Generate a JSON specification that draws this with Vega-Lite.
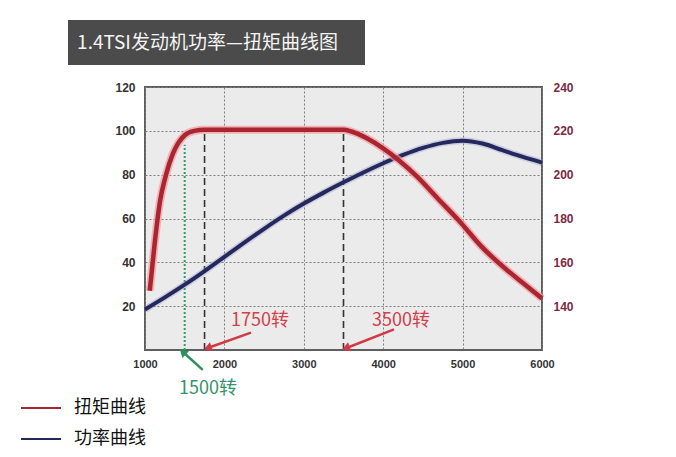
{
  "$schema": "https://vega.github.io/schema/vega-lite/v6.json",
  "background": "white",
  "padding": {"left": 20, "top": 20, "right": 5, "bottom": 5},
  "datasets": {
    "heading": [{"title": "1.4TSI发动机功率—扭矩曲线图"}],
    "power": [
      {"series": "功率曲线", "rpm": 1000, "kw": 18.5},
      {"series": "功率曲线", "rpm": 1250, "kw": 24},
      {"series": "功率曲线", "rpm": 1500, "kw": 29.8},
      {"series": "功率曲线", "rpm": 1750, "kw": 36},
      {"series": "功率曲线", "rpm": 2000, "kw": 42.5},
      {"series": "功率曲线", "rpm": 2250, "kw": 49},
      {"series": "功率曲线", "rpm": 2500, "kw": 55.3},
      {"series": "功率曲线", "rpm": 2750, "kw": 61.3},
      {"series": "功率曲线", "rpm": 3000, "kw": 66.8},
      {"series": "功率曲线", "rpm": 3250, "kw": 71.8},
      {"series": "功率曲线", "rpm": 3500, "kw": 76.5},
      {"series": "功率曲线", "rpm": 3750, "kw": 81},
      {"series": "功率曲线", "rpm": 4000, "kw": 85.2},
      {"series": "功率曲线", "rpm": 4250, "kw": 89},
      {"series": "功率曲线", "rpm": 4500, "kw": 92.2},
      {"series": "功率曲线", "rpm": 4750, "kw": 94.5},
      {"series": "功率曲线", "rpm": 5000, "kw": 95.5},
      {"series": "功率曲线", "rpm": 5250, "kw": 94.2},
      {"series": "功率曲线", "rpm": 5500, "kw": 91.2},
      {"series": "功率曲线", "rpm": 5750, "kw": 88.2},
      {"series": "功率曲线", "rpm": 6000, "kw": 85.5}
    ],
    "torque": [
      {"series": "扭矩曲线", "rpm": 1060, "nm": 147},
      {"series": "扭矩曲线", "rpm": 1120, "nm": 168},
      {"series": "扭矩曲线", "rpm": 1190, "nm": 188},
      {"series": "扭矩曲线", "rpm": 1265, "nm": 200},
      {"series": "扭矩曲线", "rpm": 1350, "nm": 209.5},
      {"series": "扭矩曲线", "rpm": 1420, "nm": 214.5},
      {"series": "扭矩曲线", "rpm": 1500, "nm": 218},
      {"series": "扭矩曲线", "rpm": 1620, "nm": 220},
      {"series": "扭矩曲线", "rpm": 1750, "nm": 220.5},
      {"series": "扭矩曲线", "rpm": 2500, "nm": 220.5},
      {"series": "扭矩曲线", "rpm": 3500, "nm": 220.5},
      {"series": "扭矩曲线", "rpm": 3600, "nm": 219.7},
      {"series": "扭矩曲线", "rpm": 3800, "nm": 216.5},
      {"series": "扭矩曲线", "rpm": 4000, "nm": 212},
      {"series": "扭矩曲线", "rpm": 4200, "nm": 206.5},
      {"series": "扭矩曲线", "rpm": 4430, "nm": 199},
      {"series": "扭矩曲线", "rpm": 4690, "nm": 189},
      {"series": "扭矩曲线", "rpm": 4980, "nm": 178},
      {"series": "扭矩曲线", "rpm": 5230, "nm": 167.5},
      {"series": "扭矩曲线", "rpm": 5525, "nm": 157.5},
      {"series": "扭矩曲线", "rpm": 5780, "nm": 150},
      {"series": "扭矩曲线", "rpm": 6000, "nm": 143.5}
    ],
    "guides": [
      {"rpm": 1500, "low": 0, "high": 93.6, "tone": "green"},
      {"rpm": 1750, "low": 0, "high": 99, "tone": "black"},
      {"rpm": 3500, "low": 0, "high": 99.5, "tone": "black"}
    ],
    "notes": [
      {"label": "1750转", "rpm": 2448, "kw": 13.2, "tone": "red"},
      {"label": "3500转", "rpm": 4224, "kw": 13.2, "tone": "red"},
      {"label": "1500转", "rpm": 1793, "kw": -17.8, "tone": "green"}
    ],
    "arrows": [
      {"tone": "red", "rpm": 2335, "kw": 7.9, "rpm_end": 1790, "kw_end": 0.9},
      {"tone": "red", "rpm": 4136, "kw": 9.4, "rpm_end": 3530, "kw_end": 0.8},
      {"tone": "green", "rpm": 1727, "kw": -9.1, "rpm_end": 1475, "kw_end": -0.8}
    ]
  },
  "vconcat": [
    {
      "width": 297,
      "height": 45,
      "view": {"fill": "#4b4b4b", "stroke": null},
      "data": {"name": "heading"},
      "mark": {"type": "text", "font": "Noto Sans CJK SC", "fontSize": 19, "color": "#f4f4f4", "align": "center", "baseline": "middle", "dx": -9},
      "encoding": {"text": {"field": "title"}}
    },
    {
      "spacing": 0,
      "hconcat": [
        {
          "width": 45,
          "height": 263,
          "view": {"fill": null, "stroke": null},
          "data": {"values": []},
          "mark": "text"
        },
        {
          "width": 397,
          "height": 263,
          "layer": [
            {
              "layer": [
                {
                  "data": {"name": "guides"},
                  "transform": [{"filter": "datum.tone === 'black'"}],
                  "mark": {"type": "rule", "color": "#333333", "strokeWidth": 1.6, "strokeDash": [7, 4]},
                  "encoding": {
                    "x": {"field": "rpm", "type": "quantitative", "scale": {"domain": [1000, 6000], "nice": false, "zero": false}, "title": null,
                      "axis": {"values": [1000, 2000, 3000, 4000, 5000, 6000], "format": "d", "grid": true, "labelPadding": 8, "labelFontSize": 11, "labelFlush": false, "title": null}},
                    "y": {"field": "low", "type": "quantitative", "scale": {"domain": [0, 120], "nice": false, "zero": false}, "title": null,
                      "axis": {"orient": "left", "values": [20, 40, 60, 80, 100, 120], "grid": true, "labelPadding": 10, "minExtent": 30, "maxExtent": 30, "title": null}},
                    "y2": {"field": "high"}
                  }
                },
                {
                  "data": {"name": "guides"},
                  "transform": [{"filter": "datum.tone === 'green'"}],
                  "mark": {"type": "rule", "color": "#3a9a66", "strokeWidth": 2, "strokeDash": [2, 2]},
                  "encoding": {
                    "x": {"field": "rpm", "type": "quantitative", "title": null},
                    "y": {"field": "low", "type": "quantitative", "title": null},
                    "y2": {"field": "high"}
                  }
                },
                {
                  "data": {"name": "power"},
                  "mark": {"type": "line", "strokeWidth": 7, "color": "#8f95c8", "opacity": 0.35, "interpolate": "monotone"},
                  "encoding": {
                    "x": {"field": "rpm", "type": "quantitative", "title": null},
                    "y": {"field": "kw", "type": "quantitative", "title": null}
                  }
                },
                {
                  "data": {"name": "power"},
                  "mark": {"type": "line", "strokeWidth": 4, "interpolate": "monotone"},
                  "encoding": {
                    "x": {"field": "rpm", "type": "quantitative", "title": null},
                    "y": {"field": "kw", "type": "quantitative", "title": null},
                    "color": {
                      "field": "series",
                      "type": "nominal",
                      "scale": {"domain": ["扭矩曲线", "功率曲线"], "range": ["#a82531", "#25285c"]},
                      "legend": {
                        "orient": "none",
                        "legendX": -48,
                        "legendY": 367,
                        "direction": "vertical",
                        "title": null,
                        "symbolType": "stroke",
                        "symbolSize": 1600,
                        "symbolStrokeWidth": 2,
                        "labelFont": "Noto Sans CJK SC",
                        "labelFontSize": 18,
                        "labelColor": "#111111",
                        "labelOffset": 12,
                        "rowPadding": 1
                      }
                    }
                  }
                },
                {
                  "data": {"name": "arrows"},
                  "mark": {"type": "rule", "strokeWidth": 2.5},
                  "encoding": {
                    "x": {"field": "rpm", "type": "quantitative", "title": null},
                    "y": {"field": "kw", "type": "quantitative", "title": null},
                    "x2": {"field": "rpm_end"},
                    "y2": {"field": "kw_end"},
                    "color": {"condition": {"test": "datum.tone === 'green'", "value": "#2f8f5b"}, "value": "#cf3a44"}
                  }
                },
                {
                  "data": {"name": "arrows"},
                  "mark": {"type": "point", "shape": "triangle-up", "filled": true, "size": 90, "opacity": 1},
                  "encoding": {
                    "x": {"field": "rpm_end", "type": "quantitative", "title": null},
                    "y": {"field": "kw_end", "type": "quantitative", "title": null},
                    "angle": {"condition": {"test": "datum.tone === 'green'", "value": 314}, "value": 249},
                    "color": {"condition": {"test": "datum.tone === 'green'", "value": "#2f8f5b"}, "value": "#cf3a44"}
                  }
                },
                {
                  "data": {"name": "notes"},
                  "mark": {"type": "text", "font": "Noto Sans CJK SC", "fontSize": 18, "align": "center", "baseline": "middle"},
                  "encoding": {
                    "x": {"field": "rpm", "type": "quantitative", "title": null},
                    "y": {"field": "kw", "type": "quantitative", "title": null},
                    "text": {"field": "label"},
                    "color": {"condition": {"test": "datum.tone === 'green'", "value": "#35936a"}, "value": "#d0414b"}
                  }
                }
              ]
            },
            {
              "data": {"name": "torque"},
              "layer": [
                {
                  "mark": {"type": "line", "strokeWidth": 8, "color": "#f39a9c", "opacity": 0.7, "interpolate": "monotone"},
                  "encoding": {
                    "x": {"field": "rpm", "type": "quantitative", "title": null},
                    "y": {"field": "nm", "type": "quantitative", "scale": {"domain": [120, 240], "nice": false, "zero": false}, "title": null,
                      "axis": {"orient": "right", "values": [140, 160, 180, 200, 220, 240], "grid": false, "labelPadding": 11, "labelColor": "#7d2842", "title": null}}
                  }
                },
                {
                  "mark": {"type": "line", "strokeWidth": 4.5, "interpolate": "monotone"},
                  "encoding": {
                    "x": {"field": "rpm", "type": "quantitative", "title": null},
                    "y": {"field": "nm", "type": "quantitative", "title": null},
                    "color": {"field": "series", "type": "nominal"}
                  }
                }
              ]
            }
          ],
          "resolve": {"scale": {"y": "independent"}}
        }
      ]
    }
  ],
  "spacing": 15,
  "config": {
    "view": {"fill": "#ebebeb", "stroke": "#5e5e5e", "strokeWidth": 2},
    "axis": {
      "domain": false,
      "ticks": false,
      "tickSize": 0,
      "labelFont": "Liberation Sans",
      "labelFontWeight": "bold",
      "labelFontSize": 12,
      "labelColor": "#333333",
      "gridColor": "#7d7d7d",
      "gridDash": [2, 2],
      "gridWidth": 1
    }
  }
}
